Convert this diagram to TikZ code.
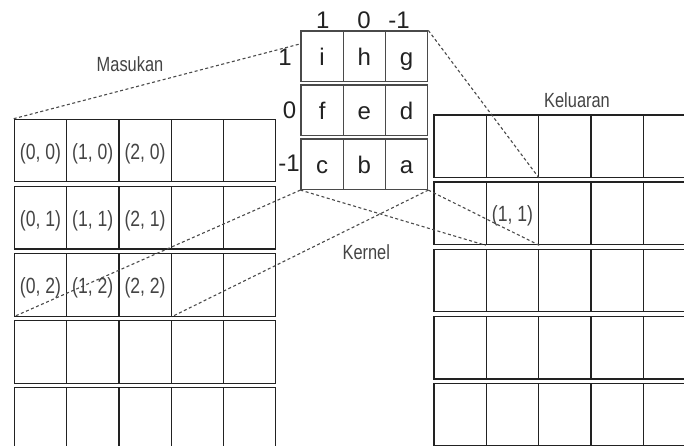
\documentclass[tikz,border=0pt]{standalone}
\usepackage{fontspec}
\setmainfont{Liberation Sans}
\newfontfamily\narrowsf[FakeStretch=0.8]{Liberation Sans}
\usetikzlibrary{calc}
\definecolor{edgecol}{HTML}{222222}
\definecolor{kedgecol}{HTML}{4A4A4A}
\definecolor{dashcol}{HTML}{4A4A4A}
\definecolor{txtcol}{HTML}{444444}
\definecolor{ktxtcol}{HTML}{222222}
\tikzset{
  gridcell/.style={draw=edgecol, line width=1.2pt, minimum width=52.3pt,
    minimum height=62.6pt, inner sep=0pt},
  celltext/.style={font=\narrowsf\fontsize{22}{26}\selectfont, text=txtcol,
    inner sep=0pt, text height=17.2pt, text depth=0pt},
  kcell/.style={draw=kedgecol, line width=1.2pt, minimum width=42.25pt,
    minimum height=50.5pt, inner sep=0pt, font=\fontsize{24}{28}\selectfont,
    text=ktxtcol, text height=18.6pt, text depth=0pt},
  idx/.style={font=\fontsize{24}{28}\selectfont, text=ktxtcol, inner sep=0pt},
  caption/.style={font=\narrowsf\fontsize{20.5}{24}\selectfont, text=txtcol, inner sep=0pt},
  link/.style={draw=dashcol, line width=1.1pt, dash pattern=on 3pt off 2.5pt},
}
\begin{document}
\begin{tikzpicture}[x=1pt,y=-1pt]
\useasboundingbox[fill=white] (0,0) rectangle (684,446);
% input and output grids
\begin{scope}
  \clip (0,0) rectangle (684,446);
  \foreach \r in {0,...,4}{
    \foreach \c in {0,...,4}{
      \node[gridcell] (L-\c-\r) at ({14.3+52.3*(\c+0.5)}, {119.3+67.1*\r+31.3}) {};
      \node[gridcell] (R-\c-\r) at ({434+52.3*(\c+0.5)}, {115+67.1*\r+31.3}) {};
    }
  }
\end{scope}
% input labels
\foreach \r in {0,1,2}{
  \foreach \c in {0,1,2}{
    \node[celltext] (tL-\c-\r) at (L-\c-\r) {(\c, \r)};
  }
}
\node[celltext] (tR-1-1) at (R-1-1) {(1, 1)};
% kernel
\node[kcell] (K-0-0) at (322.1,56.25) {i};
\node[kcell] (K-1-0) at (364.4,56.25) {h};
\node[kcell] (K-2-0) at (406.6,56.25) {g};
\node[kcell] (K-0-1) at (322.1,110.25) {f};
\node[kcell] (K-1-1) at (364.4,110.25) {e};
\node[kcell] (K-2-1) at (406.6,110.25) {d};
\node[kcell] (K-0-2) at (322.1,164.25) {c};
\node[kcell] (K-1-2) at (364.4,164.25) {b};
\node[kcell] (K-2-2) at (406.6,164.25) {a};
% kernel indices
\node[idx] (top-a) at (322.7,20.5) {1};
\node[idx] (top-b) at (364,20.5) {0};
\node[idx] (top-c) at (399,20.5) {-1};
\node[idx] (side-a) at (285,57.5) {1};
\node[idx] (side-b) at (289.5,110) {0};
\node[idx] (side-c) at (289,163.5) {-1};
% captions
\node[caption] (masukan) at (130,64.4) {Masukan};
\node[caption] (keluaran) at (577,100.3) {Keluaran};
\node[caption] (kernel) at (366.3,252.6) {Kernel};
% dashed links
\coordinate (kin) at ($(K-0-0.north west)!0.26!(K-0-0.south west)$);
\draw[link] (L-0-0.north west) -- (kin);
\draw[link] (K-2-0.north east) -- (R-1-0.south east);
\draw[link] (K-2-2.south east) -- (R-1-1.south east);
\draw[link] (K-0-2.south west) -- (R-1-1.south west);
\draw[link] (K-0-2.south west) -- (L-0-2.south west);
\draw[link] (K-2-2.south east) -- (L-2-2.south east);
\end{tikzpicture}
\end{document}
